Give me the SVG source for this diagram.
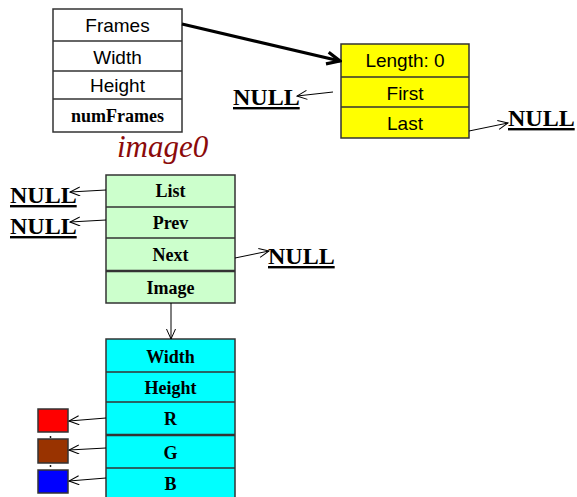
<svg xmlns="http://www.w3.org/2000/svg" width="577" height="497" viewBox="0 0 577 497">
  <style>
    .box { stroke: #333; stroke-width: 1.5; }
    .div { stroke: #333; stroke-width: 1.5; }
    .div2 { stroke: #333; stroke-width: 2.5; }
    .sans { font-family: "Liberation Sans", Arial, sans-serif; font-size: 19px; fill: #000; text-anchor: middle; }
    .serifb { font-family: "Liberation Serif", "Times New Roman", serif; font-weight: bold; font-size: 18px; fill: #000; text-anchor: middle; }
    .null { font-family: "Liberation Serif", "Times New Roman", serif; font-weight: bold; font-size: 24px; fill: #000; text-decoration: underline; }
    .thin { stroke: #000; stroke-width: 1; fill: none; marker-end: url(#openHead); }
    .thick { stroke: #000; stroke-width: 3.2; fill: none; marker-end: url(#thickHead); }
  </style>
  <defs>
    <marker id="openHead" viewBox="0 0 12 10" refX="11" refY="5" markerWidth="12" markerHeight="10" markerUnits="userSpaceOnUse" orient="auto">
      <polyline points="1,0.5 11,5 1,9.5" fill="none" stroke="#000" stroke-width="1"/>
    </marker>
    <marker id="thickHead" viewBox="0 0 18 16" refX="16" refY="8" markerWidth="18" markerHeight="16" markerUnits="userSpaceOnUse" orient="auto">
      <polyline points="3,2 16,8 3,14" fill="none" stroke="#000" stroke-width="3.2" stroke-linejoin="miter"/>
    </marker>
  </defs>

  <rect width="577" height="497" fill="#fff"/>

  <!-- header structure -->
  <g id="header">
    <rect class="box" x="53" y="9" width="129" height="123" fill="#fff"/>
    <line class="div" x1="53" y1="41" x2="182" y2="41"/>
    <line class="div" x1="53" y1="71" x2="182" y2="71"/>
    <line class="div" x1="53" y1="99" x2="182" y2="99"/>
    <text class="sans" x="117.5" y="32">Frames</text>
    <text class="sans" x="117.5" y="64">Width</text>
    <text class="sans" x="117.5" y="92">Height</text>
    <text class="serifb" x="117.5" y="122">numFrames</text>
  </g>

  <!-- list descriptor -->
  <g id="list">
    <rect class="box" x="341" y="44" width="128" height="94" fill="#ffff00"/>
    <line class="div" x1="341" y1="77" x2="469" y2="77"/>
    <line class="div" x1="341" y1="107" x2="469" y2="107"/>
    <text class="sans" x="405" y="67">Length: 0</text>
    <text class="sans" x="405" y="100">First</text>
    <text class="sans" x="405" y="130">Last</text>
  </g>

  <!-- image node -->
  <g id="image0">
    <text x="117" y="157" font-family="'Liberation Serif', 'Times New Roman', serif" font-style="italic" font-size="31" fill="#8b0a0a">image0</text>
    <rect class="box" x="106" y="175" width="129" height="128" fill="#ccffcc"/>
    <line class="div" x1="106" y1="207" x2="235" y2="207"/>
    <line class="div" x1="106" y1="238" x2="235" y2="238"/>
    <line class="div2" x1="106" y1="271" x2="235" y2="271"/>
    <text class="serifb" x="170.5" y="197">List</text>
    <text class="serifb" x="170.5" y="229">Prev</text>
    <text class="serifb" x="170.5" y="261">Next</text>
    <text class="serifb" x="170.5" y="294">Image</text>
  </g>

  <!-- pixel data -->
  <g id="imageData">
    <rect class="box" x="106" y="339" width="129" height="170" fill="#00ffff"/>
    <line class="div" x1="106" y1="372" x2="235" y2="372"/>
    <line class="div" x1="106" y1="402" x2="235" y2="402"/>
    <line class="div2" x1="106" y1="435" x2="235" y2="435"/>
    <line class="div" x1="106" y1="468" x2="235" y2="468"/>
    <text class="serifb" x="170.5" y="363">Width</text>
    <text class="serifb" x="170.5" y="394">Height</text>
    <text class="serifb" x="170.5" y="425">R</text>
    <text class="serifb" x="170.5" y="459">G</text>
    <text class="serifb" x="170.5" y="490">B</text>
  </g>

  <!-- channel buffers -->
  <g id="red"><rect class="box" x="38" y="409" width="30" height="23" fill="#ff0000"/></g>
  <g id="green"><rect class="box" x="38" y="439" width="30" height="24" fill="#993300"/></g>
  <g id="blue"><rect class="box" x="38" y="470" width="30" height="23" fill="#0000ff"/></g>
  <circle cx="50.5" cy="437" r="0.9" fill="#000"/>
  <circle cx="50.5" cy="466" r="0.9" fill="#000"/>

  <!-- null labels -->
  <g id="null-first"><text class="null" x="233" y="105">NULL</text></g>
  <g id="null-last"><text class="null" x="508" y="126">NULL</text></g>
  <g id="null-list"><text class="null" x="10" y="203">NULL</text></g>
  <g id="null-prev"><text class="null" x="10" y="234">NULL</text></g>
  <g id="null-next"><text class="null" x="268" y="264">NULL</text></g>

  <!-- connectors -->
  <g id="connectors">
    <line class="thick" x1="182" y1="24" x2="340" y2="61"/>
    <line class="thin" x1="333" y1="92" x2="297" y2="96"/>
    <line class="thin" x1="469" y1="131" x2="508" y2="123"/>
    <line class="thin" x1="106" y1="190" x2="70" y2="192"/>
    <line class="thin" x1="106" y1="220" x2="70" y2="222"/>
    <line class="thin" x1="235" y1="258" x2="269" y2="251"/>
    <line class="thin" x1="171" y1="303" x2="171" y2="339"/>
    <line class="thin" x1="106" y1="418" x2="69" y2="421"/>
    <line class="thin" x1="106" y1="448" x2="69" y2="450"/>
    <line class="thin" x1="106" y1="478" x2="69" y2="481"/>
  </g>
</svg>
